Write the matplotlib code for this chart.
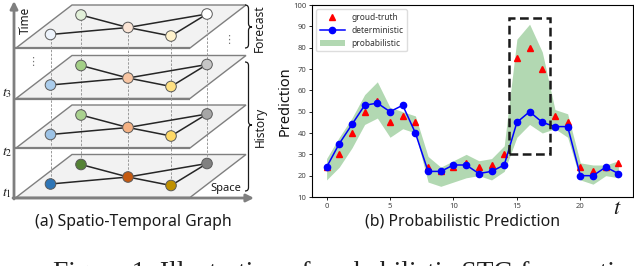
import matplotlib
matplotlib.use("Agg")
import matplotlib.pyplot as plt
from matplotlib.patches import Polygon, Circle, Rectangle, PathPatch
from matplotlib.path import Path
import numpy as np

plt.rcParams['mathtext.fontset'] = 'stix'
plt.rcParams['font.family'] = ['Noto Sans', 'DejaVu Sans']

# ---------------- data (panel b) ----------------
t = list(range(24))
ground_truth = [24, 30, 40, 50, 55, 45, 48, 45, 24, 22, 24, 26, 24, 25, 30, 75, 80, 70, 48, 45, 24, 22, 24, 26]
deterministic = [24, 35, 44, 53, 54, 50, 53, 40, 22, 22, 25, 25, 21, 22, 25, 45, 50, 45, 43, 43, 20, 20, 24, 21]
prob_upper = [28, 38, 47, 58, 64, 52, 50, 48, 29, 24, 27, 30, 27, 28, 34, 84, 91, 78, 51, 49, 26, 25, 25, 27]
prob_lower = [18, 24, 33, 44, 47, 38, 42, 40, 17, 15, 17, 19, 20, 18, 22, 38, 44, 40, 42, 38, 18, 16, 20, 19]
highlight_t = [14.4, 17.6]
highlight_y = [30.2, 93.8]
xticks = [0, 5, 10, 15, 20]
yticks = [10, 20, 30, 40, 50, 60, 70, 80, 90, 100]
legend_labels = ['groud-truth', 'deterministic', 'probabilistic']

# ---------------- diagram (panel a) ----------------
plane_bottoms = [197.5, 148, 98.5, 48]
node_x = [50.5, 81, 128, 171, 207]
node_dy = [-13.5, -33, -20.5, -12, -34]
graph_edges = [(0, 2), (1, 2), (2, 3), (2, 4), (3, 4)]
node_colors = [
    ['#2e75b6', '#548235', '#c55a11', '#bf9000', '#808080'],
    ['#9dc3e6', '#a9d18e', '#f4b183', '#ffd966', '#a6a6a6'],
    ['#abcdec', '#a3cf86', '#f8c5a2', '#ffe183', '#c6c6c6'],
    ['#edf3fb', '#e2f0d9', '#fbe5d6', '#fff2cc', '#ffffff'],
]
t_labels = [r'$t_1$', r'$t_2$', r'$t_3$']
t_label_y = [193, 152, 93]

W, H = 634, 266
fig = plt.figure(figsize=(W / 100, H / 100), dpi=100)

# overlay in pixel coordinates
ov = fig.add_axes([0, 0, 1, 1])
ov.set_xlim(0, W)
ov.set_ylim(H, 0)
ov.axis('off')

grey = '#7f7f7f'
for b in plane_bottoms:
    poly = Polygon([(16, b), (190, b), (246, b - 43), (72, b - 43)], closed=True,
                   facecolor='#f2f2f2', edgecolor=grey, lw=1.0, zorder=1)
    ov.add_patch(poly)
    ov.plot([14, 190], [b, b], color=grey, lw=1.6, zorder=1.5, solid_capstyle='butt')

# vertical dashed lines
for i, x in enumerate(node_x):
    ov.plot([x, x], [plane_bottoms[0] + node_dy[i], plane_bottoms[-1] + node_dy[i]],
            color='#9a9a9a', lw=0.7, ls=(0, (2.5, 1.5)), zorder=2)

# graph edges and nodes
for k, b in enumerate(plane_bottoms):
    for (i, j) in graph_edges:
        ov.plot([node_x[i], node_x[j]], [b + node_dy[i], b + node_dy[j]],
                color='#262626', lw=1.1, zorder=3)
    for i, x in enumerate(node_x):
        ov.add_patch(Circle((x, b + node_dy[i]), 5.3, facecolor=node_colors[k][i],
                            edgecolor='#5a5a5a', lw=0.7, zorder=4))

# axes arrows
ov.annotate('', xy=(14, 1), xytext=(14, 199),
            arrowprops=dict(arrowstyle='-|>', color=grey, lw=2.0, mutation_scale=11,
                            shrinkA=0, shrinkB=0), zorder=5)
ov.annotate('', xy=(254, 198), xytext=(13, 198),
            arrowprops=dict(arrowstyle='-|>', color=grey, lw=2.0, mutation_scale=11,
                            shrinkA=0, shrinkB=0), zorder=5)

ov.text(25, 20, 'Time', rotation=90, fontsize=8.5, ha='center', va='center', color='#1a1a1a')
ov.text(226, 189, 'Space', fontsize=8, ha='center', va='center', color='#1a1a1a', zorder=6)
for lab, y in zip(t_labels, t_label_y):
    ov.text(7, y, lab, fontsize=10, ha='center', va='center', color='#1a1a1a', zorder=7)
ov.text(33, 62, '\u22ee', fontsize=8, ha='center', va='center', color='#777777',
        family='DejaVu Sans')
ov.text(229, 40, '\u22ee', fontsize=8, ha='center', va='center', color='#777777',
        family='DejaVu Sans')


def brace(x, y0, y1, ym, w):
    h = w / 2.0
    q = 3.5
    verts = [(x, y0), (x + h, y0), (x + h, y0 + q),
             (x + h, ym - q),
             (x + h, ym), (x + w, ym),
             (x + h, ym), (x + h, ym + q),
             (x + h, y1 - q),
             (x + h, y1), (x, y1)]
    codes = [Path.MOVETO, Path.CURVE3, Path.CURVE3,
             Path.LINETO,
             Path.CURVE3, Path.CURVE3,
             Path.CURVE3, Path.CURVE3,
             Path.LINETO,
             Path.CURVE3, Path.CURVE3]
    ov.add_patch(PathPatch(Path(verts, codes), facecolor='none', edgecolor='#1a1a1a',
                           lw=0.9, zorder=6))


brace(245, 5, 48, 27, 7)
brace(245, 62, 191, 125, 7)
ov.text(259.5, 28, 'Forecast', rotation=90, fontsize=8.6, ha='center', va='center', color='#1a1a1a')
ov.text(260, 127, 'History', rotation=90, fontsize=8.6, ha='center', va='center', color='#1a1a1a')

ov.text(133, 222, '(a) Spatio-Temporal Graph', fontsize=11.4, ha='center', va='center', color='#1a1a1a')
ov.text(463, 222, '(b) Probabilistic Prediction', fontsize=11.4, ha='center', va='center', color='#1a1a1a')
ov.text(617, 208, r'$t$', fontsize=16, ha='center', va='center', color='#1a1a1a')
ov.text(53, 280, 'Figure 1: Illustration of probabilistic STG forecasting.',
        family='Liberation Serif', fontsize=19.8, ha='left', va='baseline', color='#222222')

# ---------------- plot axes ----------------
L, R, T, B = 312, 633, 5, 197
ax = fig.add_axes([L / W, 1 - B / H, (R - L) / W, (B - T) / H])
ax.fill_between(t, prob_lower, prob_upper, color='green', alpha=0.3, lw=0,
                label=legend_labels[2], zorder=1)
ax.plot(t, ground_truth, '^', color='red', ms=4.6, lw=0, label=legend_labels[0], zorder=2)
ax.plot(t, deterministic, 'o-', color='blue', ms=4.5, lw=1.1, label=legend_labels[1], zorder=3)
ax.add_patch(Rectangle((highlight_t[0], highlight_y[0]), highlight_t[1] - highlight_t[0],
                       highlight_y[1] - highlight_y[0], fill=False, edgecolor='#1a1a1a',
                       lw=1.8, ls=(0, (3.5, 1.8)), zorder=4))
ax.set_xlim(-1.15, 24.15)
ax.set_ylim(10, 100)
ax.set_xticks(xticks)
ax.set_yticks(yticks)
ax.tick_params(labelsize=5.5, length=2, width=0.6, pad=2, labelcolor='#444444')
for s in ax.spines.values():
    s.set_linewidth(0.8)
ax.set_ylabel('Prediction', fontsize=10.5, labelpad=0.5, color='#111111')
h, l = ax.get_legend_handles_labels()
order = [l.index(x) for x in legend_labels]
leg = ax.legend([h[i] for i in order], [l[i] for i in order], loc='upper left',
                fontsize=6, labelcolor='#333333', framealpha=1, edgecolor='#dddddd',
                handlelength=3.0, borderaxespad=0.5)

fig.savefig('out.png', dpi=100)
